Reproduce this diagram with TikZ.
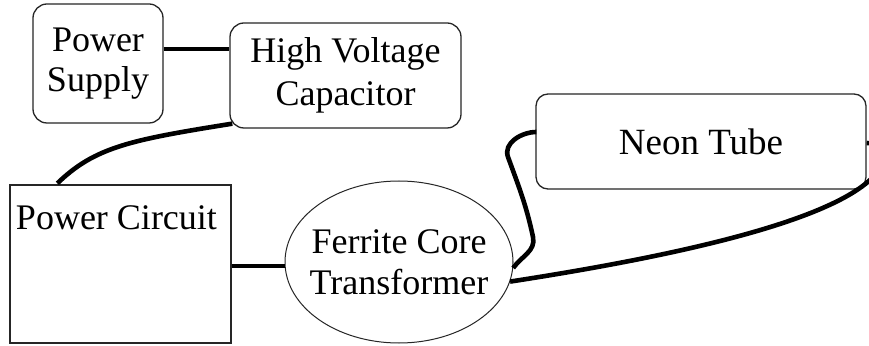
\documentclass[tikz,border=0pt]{standalone}
\usepackage{fontspec}
\setmainfont{Liberation Serif}
\usetikzlibrary{calc,shapes.geometric}
\begin{document}
\begin{tikzpicture}[x=1pt,y=1pt,
  box/.style={draw=black!85, line width=1.3pt, rounded corners=14pt, align=center, inner sep=0pt},
  sqbox/.style={draw=black!85, line width=1.3pt, inner xsep=6pt, inner ysep=0pt},
  oval/.style={ellipse, draw=black!85, line width=1pt, align=center, inner sep=0pt},
  wire/.style={line width=4.6pt, black},
  lbl/.style={font=\fontsize{36}{40}\selectfont}]
\useasboundingbox (0,0) rectangle (869,345);
\clip (0,0) rectangle (869,345);
\fill[white] (0,0) rectangle (869,345);

\node[box, lbl, minimum width=130pt, minimum height=119pt] (ps) at (98,281.5) {Power\\Supply};
\node[box, font=\fontsize{36}{43}\selectfont, minimum width=231pt, minimum height=105pt] (hvc) at (345.5,269.5) {High Voltage\\Capacitor};
\node[sqbox, lbl, minimum width=221pt, minimum height=158pt] (pc) at (120.5,81)
  {\parbox[c][158pt][t]{209pt}{\rule{0pt}{45pt}Power Circuit}};
\node[oval, font=\fontsize{36}{41}\selectfont, minimum width=228pt, minimum height=162pt] (fct) at (399,83)
  {\makebox[0pt]{Ferrite Core}\\\makebox[0pt]{Transformer}};
\node[box, font=\fontsize{37}{40}\selectfont, rounded corners=12pt, minimum width=330pt, minimum height=95pt] (neon) at (701,203.5) {Neon Tube};

% connectors
\draw[wire] ($(ps.east)+(0,14.5)$) -- ($(hvc.west)+(0,26.5)$);
\draw[wire] ($(hvc.south west)+(3,5)$) .. controls (130,205) and (95,198) .. ($(pc.north west)+(48,1)$);
\draw[wire] ($(pc.east)+(0,-2)$) -- ($(fct.west)+(0,-4)$);
\draw[wire] (fct.-3) to[out=55,in=-78] (533,108) to[out=102,in=-70] (508,188)
  to[out=110,in=180] ($(neon.west)+(1,9.5)$);
\draw[wire] (fct.-10) .. controls (650,85) and (830,120) .. (875,170)
  .. controls (885,185) and (882,202) .. ($(neon.east)+(0,-1.5)$);
\end{tikzpicture}
\end{document}
